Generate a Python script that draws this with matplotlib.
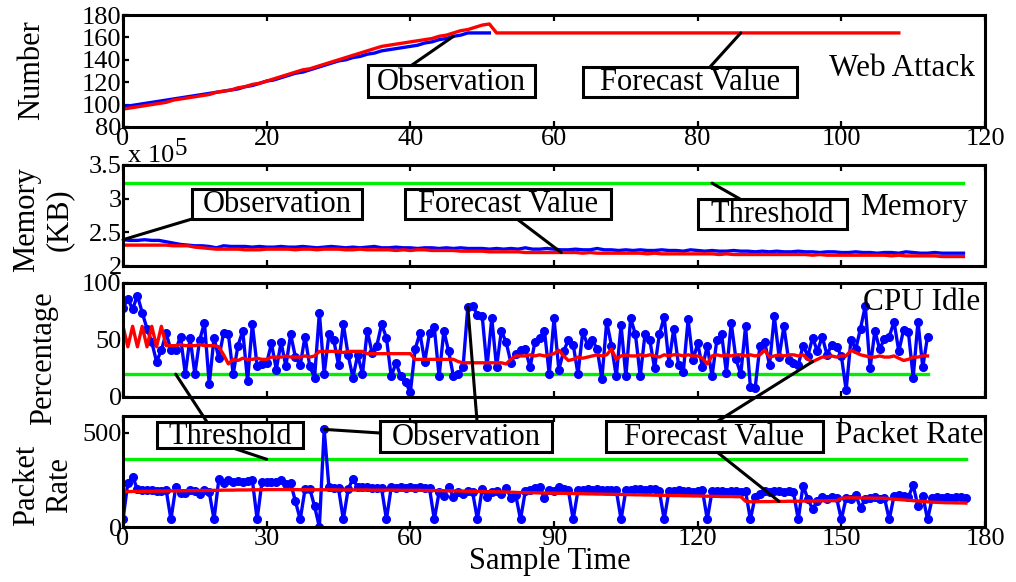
import matplotlib
matplotlib.use('Agg')
import matplotlib.pyplot as plt
from matplotlib.patches import Rectangle, ConnectionPatch

plt.rcParams['font.family'] = ['Liberation Serif', 'DejaVu Serif']

# Web attack count
web_obs = [99, 99, 100, 101, 102, 103, 104, 105, 106, 107,
           108, 109, 110, 111, 112, 113, 114, 116, 117, 119,
           121, 122, 124, 126, 128, 129, 131, 133, 135, 137,
           139, 140, 142, 143, 145, 146, 148, 149, 150, 151,
           152, 153, 155, 156, 158, 159, 161, 162, 164, 164,
           164, 164]
web_fc = [96, 97, 98, 99, 100, 101, 102, 104, 105, 106,
          107, 108, 109, 111, 112, 113, 115, 116, 118, 119,
          121, 123, 125, 127, 129, 131, 132, 134, 136, 138,
          140, 142, 144, 146, 148, 150, 152, 153, 154, 155,
          156, 157, 158, 159, 161, 162, 164, 166, 167, 169,
          171, 172, 164, 164, 164, 164, 164, 164, 164, 164,
          164, 164, 164, 164, 164, 164, 164, 164, 164, 164,
          164, 164, 164, 164, 164, 164, 164, 164, 164, 164,
          164, 164, 164, 164, 164, 164, 164, 164, 164, 164,
          164, 164, 164, 164, 164, 164, 164, 164, 164, 164,
          164, 164, 164, 164, 164, 164, 164, 164, 164]

# Memory usage, in units of 1e5 KB
mem_obs = [2.39, 2.38, 2.38, 2.39, 2.38, 2.38, 2.36, 2.34, 2.32, 2.31,
           2.30, 2.30, 2.29, 2.27, 2.30, 2.29, 2.29, 2.29, 2.28, 2.29,
           2.28, 2.28, 2.29, 2.28, 2.28, 2.29, 2.28, 2.27, 2.28, 2.29,
           2.28, 2.27, 2.28, 2.27, 2.28, 2.29, 2.27, 2.27, 2.28, 2.27,
           2.27, 2.26, 2.27, 2.27, 2.26, 2.27, 2.26, 2.27, 2.26, 2.26,
           2.26, 2.25, 2.26, 2.25, 2.26, 2.25, 2.27, 2.25, 2.25, 2.26,
           2.25, 2.24, 2.24, 2.25, 2.24, 2.24, 2.26, 2.24, 2.24, 2.23,
           2.24, 2.23, 2.24, 2.23, 2.23, 2.24, 2.23, 2.23, 2.22, 2.24,
           2.23, 2.22, 2.23, 2.22, 2.22, 2.23, 2.22, 2.22, 2.21, 2.22,
           2.21, 2.22, 2.21, 2.21, 2.22, 2.21, 2.21, 2.20, 2.21, 2.21,
           2.20, 2.20, 2.21, 2.20, 2.20, 2.19, 2.20, 2.20, 2.19, 2.21,
           2.20, 2.19, 2.19, 2.20, 2.19, 2.19, 2.19, 2.19]
mem_fc = [2.31, 2.31, 2.31, 2.31, 2.31, 2.31, 2.31, 2.30, 2.30, 2.30,
          2.28, 2.27, 2.26, 2.25, 2.25, 2.25, 2.25, 2.24, 2.24, 2.24,
          2.25, 2.25, 2.25, 2.25, 2.24, 2.25, 2.25, 2.24, 2.25, 2.25,
          2.25, 2.24, 2.24, 2.25, 2.24, 2.24, 2.24, 2.24, 2.23, 2.24,
          2.23, 2.24, 2.24, 2.23, 2.23, 2.23, 2.23, 2.22, 2.22, 2.22,
          2.22, 2.21, 2.21, 2.21, 2.21, 2.21, 2.20, 2.20, 2.20, 2.20,
          2.20, 2.20, 2.20, 2.20, 2.19, 2.20, 2.19, 2.19, 2.19, 2.19,
          2.19, 2.19, 2.19, 2.18, 2.19, 2.18, 2.18, 2.18, 2.18, 2.18,
          2.18, 2.18, 2.18, 2.17, 2.18, 2.17, 2.17, 2.17, 2.17, 2.17,
          2.17, 2.17, 2.17, 2.17, 2.17, 2.17, 2.16, 2.17, 2.16, 2.16,
          2.16, 2.16, 2.16, 2.16, 2.16, 2.16, 2.16, 2.15, 2.16, 2.15,
          2.15, 2.15, 2.15, 2.15, 2.14, 2.14, 2.14, 2.14]
mem_limit = 3.23

# CPU idle percentage
cpu_obs = [78, 86, 77, 89, 74, 60, 48, 31, 41, 56,
           41, 41, 53, 20, 52, 20, 50, 65, 11, 52,
           34, 56, 55, 20, 45, 58, 14, 64, 27, 29,
           30, 47, 24, 48, 27, 55, 35, 28, 53, 27,
           17, 74, 20, 55, 50, 28, 64, 37, 17, 37,
           20, 58, 39, 45, 64, 52, 18, 30, 18, 13,
           4, 42, 56, 31, 56, 61, 18, 58, 40, 18,
           20, 26, 79, 80, 72, 71, 26, 69, 26, 58,
           48, 30, 38, 41, 42, 26, 48, 52, 58, 20,
           69, 24, 40, 50, 46, 20, 57, 46, 50, 42,
           16, 66, 45, 18, 63, 18, 69, 55, 18, 55,
           50, 25, 55, 70, 30, 60, 28, 22, 68, 32,
           47, 26, 45, 18, 50, 55, 21, 65, 33, 20,
           62, 9, 8, 45, 48, 28, 71, 35, 62, 32,
           30, 28, 45, 36, 52, 40, 53, 37, 46, 44,
           36, 6, 50, 42, 60, 80, 25, 58, 42, 51,
           53, 66, 40, 59, 57, 17, 66, 26, 53]
cpu_fc = [62, 44, 62, 44, 62, 44, 62, 44, 62, 45,
          45, 45, 46, 45, 45, 45, 46, 45, 45, 45,
          44, 37, 29, 33, 32, 34, 33, 33, 34, 33,
          33, 35, 35, 35, 36, 35, 35, 35, 36, 35,
          36, 40, 40, 40, 40, 40, 39, 40, 40, 40,
          40, 38, 38, 38, 38, 38, 38, 38, 38, 38,
          38, 33, 33, 33, 33, 33, 33, 33, 33, 33,
          31, 30, 30, 30, 30, 30, 30, 30, 30, 30,
          29, 33, 36, 36, 36, 37, 36, 37, 36, 37,
          38, 41, 36, 32, 33, 35, 34, 35, 36, 37,
          36, 37, 42, 33, 36, 37, 36, 36, 37, 36,
          37, 36, 35, 37, 36, 37, 37, 36, 37, 36,
          36, 34, 29, 36, 37, 36, 37, 36, 37, 37,
          36, 37, 36, 37, 41, 35, 36, 37, 36, 37,
          37, 36, 37, 33, 31, 33, 35, 35, 36, 35,
          36, 36, 41, 39, 37, 36, 35, 35, 36, 35,
          35, 36, 34, 32, 33, 35, 35, 36, 36]
cpu_limit = 20

# Packet rate
pkt_obs = [40, 235, 268, 200, 198, 197, 196, 194, 192, 198,
           40, 210, 180, 183, 195, 190, 178, 195, 185, 40,
           254, 232, 248, 240, 242, 240, 245, 250, 40, 238,
           240, 240, 240, 250, 230, 235, 136, 40, 200, 203,
           110, 0, 519, 210, 205, 205, 40, 200, 257, 210,
           215, 210, 205, 208, 205, 40, 210, 205, 212, 205,
           210, 205, 212, 208, 205, 40, 185, 166, 214, 160,
           185, 178, 190, 185, 40, 203, 157, 185, 190, 178,
           207, 155, 170, 40, 190, 199, 205, 214, 155, 195,
           190, 214, 200, 195, 40, 195, 198, 200, 196, 200,
           198, 195, 198, 195, 40, 195, 198, 200, 200, 198,
           202, 200, 190, 40, 190, 192, 195, 190, 192, 188,
           190, 195, 40, 190, 192, 190, 188, 190, 190, 188,
           190, 40, 160, 175, 190, 185, 190, 190, 185, 190,
           185, 40, 220, 150, 95, 140, 160, 150, 160, 155,
           40, 155, 150, 172, 100, 150, 155, 160, 150, 155,
           40, 165, 170, 165, 160, 222, 110, 165, 40, 155,
           160, 155, 158, 155, 160, 158, 155]
pkt_fc = [188, 188, 189, 189, 190, 190, 190, 191, 191, 191,
          192, 192, 192, 193, 193, 193, 194, 194, 194, 195,
          195, 196, 196, 196, 197, 197, 197, 198, 198, 198,
          199, 199, 199, 199, 199, 199, 199, 198, 198, 198,
          198, 198, 198, 198, 198, 197, 197, 197, 197, 197,
          197, 197, 196, 196, 196, 196, 196, 196, 195, 195,
          195, 195, 195, 194, 194, 194, 193, 193, 192, 192,
          191, 191, 190, 190, 189, 189, 188, 188, 187, 187,
          186, 185, 184, 183, 183, 182, 182, 181, 181, 180,
          180, 179, 179, 178, 178, 177, 177, 176, 176, 175,
          175, 174, 174, 173, 173, 172, 172, 171, 171, 170,
          170, 169, 169, 168, 168, 167, 167, 166, 166, 165,
          165, 164, 164, 163, 163, 162, 162, 162, 161, 161,
          137, 134, 134, 135, 135, 135, 136, 136, 136, 137,
          137, 137, 138, 138, 138, 139, 139, 139, 140, 140,
          152, 155, 155, 155, 154, 154, 154, 153, 153, 153,
          150, 148, 146, 144, 142, 140, 138, 136, 134, 132,
          131, 130, 129, 129, 128, 128, 127]
pkt_limit = 360

BLUE = '#0000ff'
RED = '#ff0000'
GREEN = '#00ee00'
H = 582  # figure height in pixels

fig = plt.figure(figsize=(10.16, 5.82), dpi=100)
fig.patch.set_facecolor('white')

ax1 = fig.add_axes([0.1211, 0.7818, 0.8484, 0.1924])
ax2 = fig.add_axes([0.1211, 0.5430, 0.8484, 0.1735])
ax3 = fig.add_axes([0.1211, 0.3179, 0.8484, 0.1959])
ax4 = fig.add_axes([0.1211, 0.0945, 0.8484, 0.1907])

for ax in (ax1, ax2, ax3, ax4):
    ax.set_facecolor('none')
    for s in ax.spines.values():
        s.set_linewidth(2.2)
    ax.tick_params(direction='in', length=4, width=1.6, labelsize=19,
                   top=True, right=False, pad=1)

# --- Web attack ---
ax1.plot(range(len(web_obs)), web_obs, color=BLUE, lw=2.4)
ax1.plot(range(len(web_fc)), web_fc, color=RED, lw=2.4)
ax1.set_xlim(0, 120)
ax1.set_ylim(80, 180)
ax1.set_xticks(range(0, 121, 20))
ax1.set_yticks(range(80, 181, 20))
ax1.text(0.988, 0.52, 'Web Attack', transform=ax1.transAxes,
         ha='right', va='center', fontsize=22.5)

# --- Memory ---
ax2.plot(range(len(mem_obs)), mem_obs, color=BLUE, lw=2.4)
ax2.plot(range(len(mem_fc)), mem_fc, color=RED, lw=2.4)
ax2.plot([0, len(mem_obs) - 1], [mem_limit, mem_limit], color=GREEN, lw=2.4)
ax2.set_xlim(0, 120)
ax2.set_ylim(2, 3.5)
ax2.set_xticks(range(0, 121, 20))
ax2.set_xticklabels([])
ax2.set_yticks([2, 2.5, 3, 3.5])
ax2.set_yticklabels(['2', '2.5', '3', '3.5'])
ax2.text(0.980, 0.58, 'Memory', transform=ax2.transAxes,
         ha='right', va='center', fontsize=22.5)
fig.text(128, H - 162, 'x 10', transform=None, fontsize=19, va='baseline')
fig.text(175, H - 155, '5', transform=None, fontsize=18, va='baseline')

# --- CPU idle ---
ax3.plot(range(len(cpu_obs)), [cpu_limit] * len(cpu_obs), color=GREEN, lw=2.4)
ax3.plot(range(len(cpu_obs)), cpu_obs, color=BLUE, lw=2.4,
         marker='o', ms=5.5)
ax3.plot(range(len(cpu_fc)), cpu_fc, color=RED, lw=2.4)
ax3.set_xlim(0, 180)
ax3.set_ylim(0, 100)
ax3.set_xticks(range(0, 181, 30))
ax3.set_xticklabels([])
ax3.set_yticks([0, 50, 100])
ax3.text(0.995, 0.83, 'CPU Idle', transform=ax3.transAxes,
         ha='right', va='center', fontsize=22.5)

# --- Packet rate ---
ax4.plot(range(len(pkt_obs)), [pkt_limit] * len(pkt_obs), color=GREEN, lw=2.4)
ax4.plot(range(len(pkt_obs)), pkt_obs, color=BLUE, lw=2.4,
         marker='o', ms=5.5)
ax4.plot(range(len(pkt_fc)), pkt_fc, color=RED, lw=2.4)
ax4.set_xlim(0, 180)
ax4.set_ylim(0, 590)
ax4.set_xticks(range(0, 181, 30))
ax4.set_yticks([0, 500])
ax4.text(0.998, 0.82, 'Packet Rate', transform=ax4.transAxes,
         ha='right', va='center', fontsize=22.5)

# axis titles
fig.text(32, H - 70, 'Number', transform=None, rotation=90,
         ha='center', va='center', fontsize=22)
fig.text(43, H - 220, 'Memory\n(KB)', transform=None, rotation=90,
         ha='center', va='center', fontsize=22, linespacing=1.2)
fig.text(44, H - 358, 'Percentage', transform=None, rotation=90,
         ha='center', va='center', fontsize=22)
fig.text(43, H - 485, 'Packet\nRate', transform=None, rotation=90,
         ha='center', va='center', fontsize=22, linespacing=1.2)
fig.text(550, H - 562, 'Sample Time', transform=None,
         ha='center', va='center', fontsize=22)


def note(label, box, leaders):
    # boxed label (pixel box x0, y0, x1, y1 from the top) with leader lines
    # from a point on the box edge to a data point in some axes
    x0, y0, x1, y1 = box
    for (sx, sy), xy, ax in leaders:
        con = ConnectionPatch(xyA=(sx, H - sy), coordsA='figure pixels',
                              xyB=xy, coordsB=ax.transData,
                              color='black', lw=2.2, zorder=4)
        fig.add_artist(con)
    fig.add_artist(Rectangle((x0, H - y1), x1 - x0, y1 - y0, transform=None,
                             fc='white', ec='black', lw=2.2, zorder=5))
    fig.text((x0 + x1) / 2, H - (y0 + y1) / 2 - 1, label, transform=None,
             ha='center', va='center', fontsize=22, zorder=6)


note('Observation', (368, 65, 535, 97),
     [((412, 65), (46, web_obs[46]), ax1)])
note('Forecast Value', (583, 67, 797, 97),
     [((710, 67), (86, web_fc[86]), ax1)])

note('Observation', (192, 189, 362, 219),
     [((192, 219), (0, mem_obs[0]), ax2)])
note('Forecast Value', (405, 189, 611, 219),
     [((517, 219), (61, mem_fc[61]), ax2)])
note('Threshold', (698, 199, 847, 229),
     [((740, 199), (82, mem_limit), ax2)])

note('Threshold', (157, 422, 303, 448),
     [((207, 422), (11, cpu_limit), ax3),
      ((233, 448), (30, pkt_limit), ax4)])
note('Observation', (380, 421, 552, 452),
     [((477, 421), (72, cpu_obs[72]), ax3),
      ((380, 433), (42, pkt_obs[42]), ax4)])
note('Forecast Value', (606, 421, 823, 452),
     [((718, 421), (144, cpu_fc[144]), ax3),
      ((717, 452), (137, pkt_fc[137]), ax4)])

fig.savefig('out.png', dpi=100)
